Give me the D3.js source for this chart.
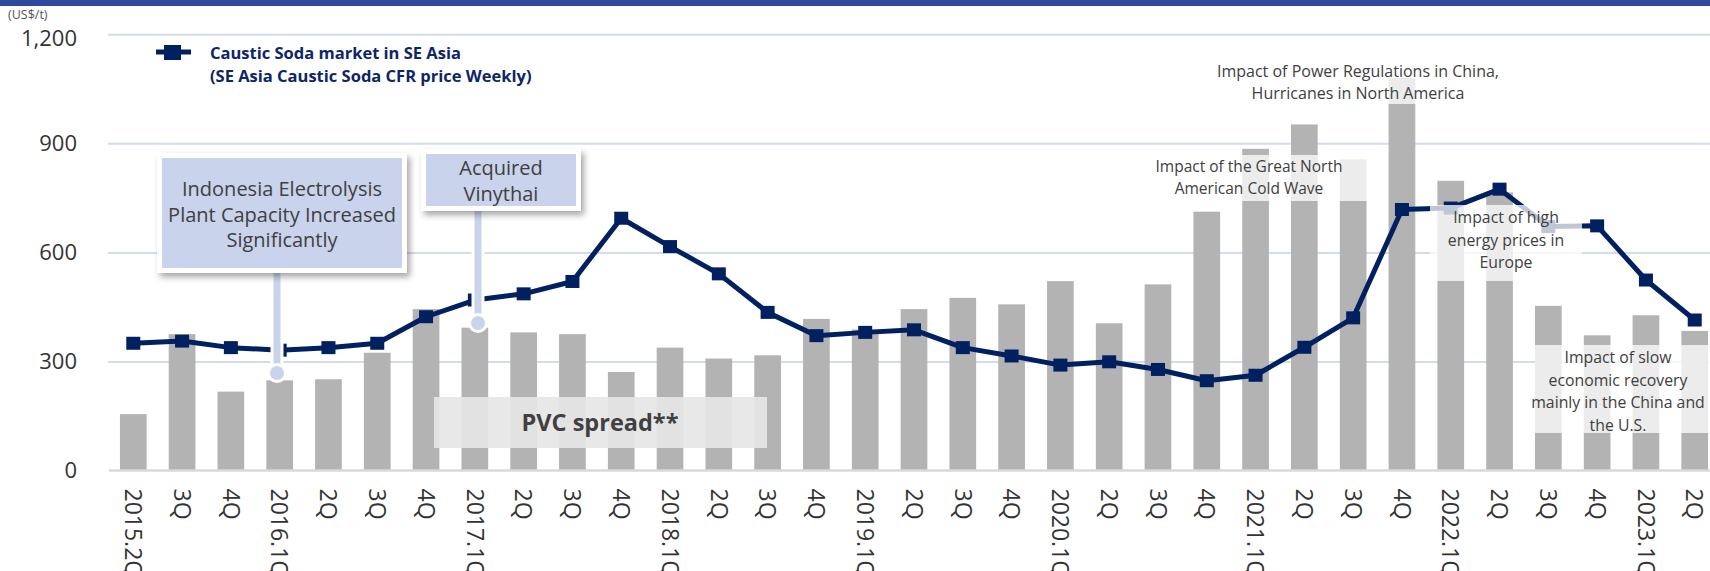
<!DOCTYPE html>
<html>
<head>
<meta charset="utf-8">
<script src="https://cdn.jsdelivr.net/npm/d3@7"></script>
<style>
  body { margin: 0; background: #fff; }
  svg { display: block; font-family: "Open Sans", "Noto Sans", sans-serif; }
</style>
</head>
<body>
<div id="vis"></div>
<script>
// setting constants
const FRAME_WIDTH = 1710;
const FRAME_HEIGHT = 571;

// data
const quarters = ["2015.2Q", "3Q", "4Q",
  "2016.1Q", "2Q", "3Q", "4Q",
  "2017.1Q", "2Q", "3Q", "4Q",
  "2018.1Q", "2Q", "3Q", "4Q",
  "2019.1Q", "2Q", "3Q", "4Q",
  "2020.1Q", "2Q", "3Q", "4Q",
  "2021.1Q", "2Q", "3Q", "4Q",
  "2022.1Q", "2Q", "3Q", "4Q",
  "2023.1Q", "2Q"];

// PVC spread (bars), US$/t
const pvcSpread = [155, 375, 217, 248, 251, 324, 444, 393, 380, 375, 271,
  338, 308, 317, 417, 388, 444, 475, 457, 521, 405, 512, 712, 885, 952, 856,
  1080, 797, 765, 453, 372, 427, 384];

// SE Asia caustic soda CFR price (line), US$/t
const causticSoda = [350, 356, 338, 331, 338, 350, 423, 469, 486, 520, 694,
  616, 541, 435, 371, 380, 387, 338, 315, 290, 299, 278, 247, 262, 339, 420,
  718, 722, 774, 671, 673, 524, 414];

const yTicks = [0, 300, 600, 900, 1200];

// adding frame
const FRAME = d3.select("#vis")
  .append("svg")
    .attr("width", FRAME_WIDTH)
    .attr("height", FRAME_HEIGHT);

// drop shadow for the callout boxes
const defs = FRAME.append("defs");
defs.append("filter")
    .attr("id", "shadow")
    .attr("x", "-10%").attr("y", "-10%")
    .attr("width", "130%").attr("height", "140%")
  .append("feDropShadow")
    .attr("dx", 3).attr("dy", 4)
    .attr("stdDeviation", 3)
    .attr("flood-color", "#000")
    .attr("flood-opacity", 0.35);

// scales
const X_SCALE = d3.scaleBand()
  .domain(d3.range(quarters.length))
  .range([109, 1719])
  .paddingInner(0.453)
  .paddingOuter(0.224);

const Y_SCALE = d3.scaleLinear()
  .domain([0, 1200])
  .range([470.5, 34.3]);

const cx = (i) => X_SCALE(i) + X_SCALE.bandwidth() / 2;

// top band
FRAME.append("rect")
  .attr("x", 0).attr("y", 0)
  .attr("width", FRAME_WIDTH).attr("height", 6)
  .attr("fill", "#2E4A9E");

// gridlines
FRAME.append("g")
  .attr("transform", "translate(108,0)")
  .call(d3.axisLeft(Y_SCALE).tickValues(yTicks.slice(1))
    .tickSize(-(FRAME_WIDTH - 108)).tickFormat(""))
  .call(g => g.select(".domain").remove())
  .call(g => g.selectAll("line")
    .attr("stroke", "#D3DCEC").attr("stroke-width", 2));

// y labels
FRAME.append("g")
  .attr("transform", "translate(77,0)")
  .call(d3.axisLeft(Y_SCALE).tickValues(yTicks).tickSize(0).tickPadding(0)
    .tickFormat(d3.format(",")))
  .call(g => g.select(".domain").remove())
  .call(g => g.selectAll("text")
    .attr("font-family", "'Open Sans', sans-serif")
    .attr("font-size", "22px")
    .attr("fill", "#333"))
  .call(g => g.selectAll(".tick")
    .filter((d) => d === 1200)
    .select("text").attr("dy", "0.5em"));

FRAME.append("text")
  .attr("x", 8).attr("y", 19)
  .attr("font-size", "12.5px")
  .attr("fill", "#555")
  .text("(US$/t)");

// bars
FRAME.append("g")
  .selectAll("rect")
  .data(pvcSpread)
  .enter()
  .append("rect")
    .attr("x", (d, i) => X_SCALE(i))
    .attr("y", (d) => Y_SCALE(d))
    .attr("width", X_SCALE.bandwidth())
    .attr("height", (d) => Y_SCALE(0) - Y_SCALE(d))
    .attr("fill", "#B3B3B3");

// baseline + x labels
FRAME.append("g")
  .attr("transform", "translate(0," + Y_SCALE(0) + ")")
  .call(d3.axisBottom(X_SCALE).tickSize(0).tickPadding(0)
    .tickFormat((i) => quarters[i]))
  .call(g => g.select(".domain")
    .attr("d", "M109,0H" + FRAME_WIDTH)
    .attr("stroke", "#D9D9D9").attr("stroke-width", 2.5))
  .call(g => g.selectAll("text")
    .attr("font-family", "'Open Sans', sans-serif")
    .attr("font-size", "23px")
    .attr("fill", "#333")
    .attr("text-anchor", "start")
    .attr("transform", "translate(0,18) rotate(90)")
    .attr("x", 0).attr("y", 0)
    .attr("dy", "0.36em"));

// PVC spread label
FRAME.append("rect")
  .attr("x", 434).attr("y", 397)
  .attr("width", 333).attr("height", 51)
  .attr("fill", "#E6E6E6").attr("opacity", 0.92);
FRAME.append("text")
  .attr("x", 600).attr("y", 431)
  .attr("text-anchor", "middle")
  .attr("font-size", "23.5px").attr("font-weight", "bold")
  .attr("fill", "#404040")
  .text("PVC spread**");

// caustic soda line
const line = d3.line()
  .x((d, i) => cx(i))
  .y((d) => Y_SCALE(d));

FRAME.append("path")
  .datum(causticSoda)
  .attr("d", line)
  .attr("fill", "none")
  .attr("stroke", "#002060")
  .attr("stroke-width", 5)
  .attr("stroke-linejoin", "round");

FRAME.append("g")
  .selectAll("rect")
  .data(causticSoda)
  .enter()
  .append("rect")
    .attr("x", (d, i) => cx(i) - 7)
    .attr("y", (d) => Y_SCALE(d) - 6.5)
    .attr("width", 14).attr("height", 13)
    .attr("fill", "#002060");

// text annotations with translucent boxes
function note(x0, y0, w, h, cxText, lines, y1, step, size) {
  FRAME.append("rect")
    .attr("x", x0).attr("y", y0)
    .attr("width", w).attr("height", h)
    .attr("fill", "#fff").attr("opacity", 0.75);
  const t = FRAME.append("text")
    .attr("text-anchor", "middle")
    .attr("font-size", size + "px")
    .attr("fill", "#404040");
  lines.forEach((s, k) => {
    t.append("tspan")
      .attr("x", cxText)
      .attr("y", y1 + k * step)
      .attr("dy", "0.35em")
      .text(s);
  });
}

note(1205, 57, 305, 47, 1358,
  ["Impact of Power Regulations in China,", "Hurricanes in North America"], 71, 22.3, 16);
note(1150, 155, 218, 46, 1249,
  ["Impact of the Great North", "American Cold Wave"], 166.5, 22.3, 15.5);
note(1430, 205, 152, 76, 1506,
  ["Impact of high", "energy prices in", "Europe"], 217.5, 22.6, 15.8);
note(1535, 345, 175, 88, 1618,
  ["Impact of slow", "economic recovery", "mainly in the China and", "the U.S."], 357.5, 22.6, 15.8);

// callouts
function callout(box, lines, lineY, stemX, stemTop, dotY) {
  FRAME.append("line")
    .attr("x1", stemX).attr("x2", stemX)
    .attr("y1", stemTop).attr("y2", dotY)
    .attr("stroke", "#fff").attr("stroke-width", 13);
  FRAME.append("line")
    .attr("x1", stemX).attr("x2", stemX)
    .attr("y1", stemTop).attr("y2", dotY)
    .attr("stroke", "#C9D3EC").attr("stroke-width", 7);
  FRAME.append("circle")
    .attr("cx", stemX).attr("cy", dotY).attr("r", 8.5)
    .attr("fill", "#C9D3EC")
    .attr("stroke", "#fff").attr("stroke-width", 3);
  FRAME.append("rect")
    .attr("x", box.x - 5).attr("y", box.y - 5)
    .attr("width", box.w + 10).attr("height", box.h + 10)
    .attr("fill", "#fff")
    .attr("filter", "url(#shadow)");
  FRAME.append("rect")
    .attr("x", box.x).attr("y", box.y)
    .attr("width", box.w).attr("height", box.h)
    .attr("fill", "#C9D3EC");
  const t = FRAME.append("text")
    .attr("text-anchor", "middle")
    .attr("font-size", "20px")
    .attr("fill", "#404040");
  lines.forEach((s, k) => {
    t.append("tspan")
      .attr("x", box.x + box.w / 2)
      .attr("y", lineY + k * 25.5)
      .attr("dy", "0.35em")
      .text(s);
  });
}

callout({x: 162, y: 158, w: 240, h: 110},
  ["Indonesia Electrolysis", "Plant Capacity Increased", "Significantly"],
  189, 277, 273, 373);
callout({x: 426, y: 154, w: 150, h: 52},
  ["Acquired", "Vinythai"],
  168, 478, 211, 323);

// legend
FRAME.append("line")
  .attr("x1", 156).attr("x2", 191)
  .attr("y1", 52).attr("y2", 52)
  .attr("stroke", "#002060").attr("stroke-width", 5);
FRAME.append("rect")
  .attr("x", 164).attr("y", 45)
  .attr("width", 17).attr("height", 15)
  .attr("fill", "#002060");
const legend = FRAME.append("text")
  .attr("font-size", "16.5px")
  .attr("font-weight", "bold")
  .attr("fill", "#0D2666");
["Caustic Soda market in SE Asia", "(SE Asia Caustic Soda CFR price Weekly)"]
  .forEach((s, k) => {
    legend.append("tspan")
      .attr("x", 210).attr("y", 53 + k * 23)
      .attr("dy", "0.35em")
      .text(s);
  });
</script>
</body>
</html>
